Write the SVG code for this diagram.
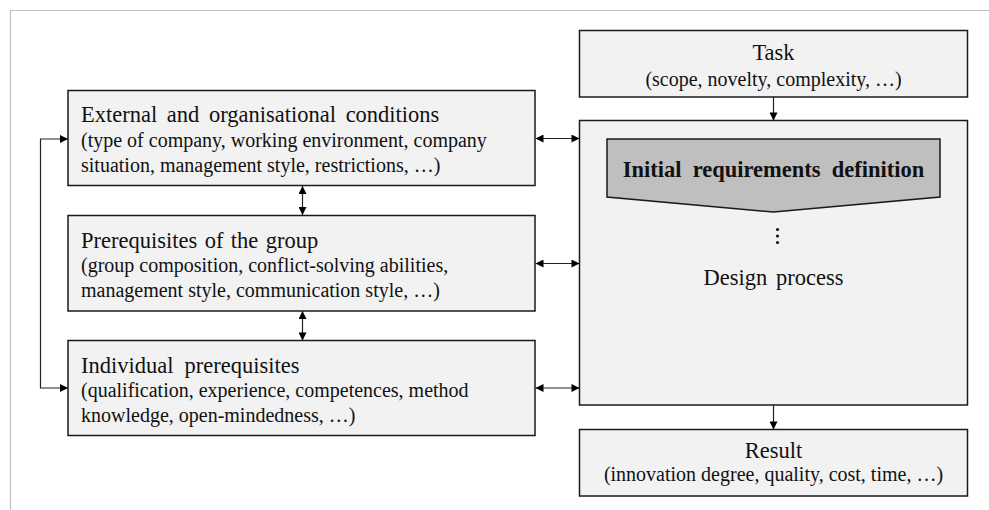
<svg xmlns="http://www.w3.org/2000/svg" width="989" height="510" viewBox="0 0 989 510">
<style>
.box{fill:#f2f2f2;stroke:#1a1a1a;stroke-width:1.5}
.t{font-family:"Liberation Serif","Times New Roman",serif;font-size:20px;fill:#111}
.h{font-size:22.5px}
.c{text-anchor:middle}
.b{font-weight:bold}
.ln{fill:none;stroke:#222;stroke-width:1.2}
</style>
<defs>
<marker id="ah" viewBox="0 0 10 10" refX="10" refY="5" markerWidth="9" markerHeight="8" markerUnits="userSpaceOnUse" orient="auto-start-reverse">
<path d="M0,0 L10,5 L0,10 Z" fill="#000"/>
</marker>
</defs>
<rect width="989" height="510" fill="#fff"/>
<path d="M10.5,510 L10.5,10.5 L989,10.5" fill="none" stroke="#c0c0c0" stroke-width="1.2"/>

<g id="external">
<rect class="box" x="68" y="90.5" width="467" height="95"/>
<text class="t h" x="81" y="122" word-spacing="4">External and organisational conditions</text>
<text class="t" x="81" y="147">(type of company, working environment, company</text>
<text class="t" x="81" y="172">situation, management style, restrictions, …)</text>
</g>
<g id="group">
<rect class="box" x="68" y="215.5" width="467" height="95.5"/>
<text class="t h" x="81" y="248" word-spacing="1.8">Prerequisites of the group</text>
<text class="t" x="81" y="272">(group composition, conflict-solving abilities,</text>
<text class="t" x="81" y="297">management style, communication style, …)</text>
</g>
<g id="individual">
<rect class="box" x="68" y="340.5" width="467" height="95"/>
<text class="t h" x="81" y="373" word-spacing="5.4">Individual prerequisites</text>
<text class="t" x="81" y="397">(qualification, experience, competences, method</text>
<text class="t" x="81" y="422">knowledge, open-mindedness, …)</text>
</g>
<g id="task">
<rect class="box" x="579.5" y="30.5" width="388" height="66.5"/>
<text class="t h c" x="773.5" y="60">Task</text>
<text class="t c" x="773.5" y="86">(scope, novelty, complexity, …)</text>
</g>
<g id="design">
<rect class="box" x="579.5" y="120.5" width="388" height="284.5"/>
<text class="t h c" x="773.5" y="285" word-spacing="3">Design process</text>
</g>
<g id="initial">
<path d="M607,139 L940,139 L940,197 L773.5,212 L607,197 Z" fill="#bfbfbf" stroke="#1a1a1a" stroke-width="1.5"/>
<text class="t h c b" x="773.5" y="177" word-spacing="5.5">Initial requirements definition</text>
<circle cx="777.5" cy="229.5" r="1.6" fill="#111"/>
<circle cx="777.5" cy="236" r="1.6" fill="#111"/>
<circle cx="777.5" cy="242.5" r="1.6" fill="#111"/>
</g>
<g id="result">
<rect class="box" x="579.5" y="429.5" width="388" height="66.5"/>
<text class="t h c" x="773.5" y="458">Result</text>
<text class="t c" x="773.5" y="481">(innovation degree, quality, cost, time, …)</text>
</g>

<g id="connectors">
<path class="ln" d="M68,139 L40.5,139 L40.5,388 L68,388" marker-start="url(#ah)" marker-end="url(#ah)" stroke="#555"/>
<line class="ln" x1="302.5" y1="186" x2="302.5" y2="215" marker-start="url(#ah)" marker-end="url(#ah)"/>
<line class="ln" x1="302.5" y1="311" x2="302.5" y2="340.5" marker-start="url(#ah)" marker-end="url(#ah)"/>
<line class="ln" x1="535.5" y1="138.5" x2="579.5" y2="138.5" marker-start="url(#ah)" marker-end="url(#ah)"/>
<line class="ln" x1="535.5" y1="263.5" x2="579.5" y2="263.5" marker-start="url(#ah)" marker-end="url(#ah)"/>
<line class="ln" x1="535.5" y1="388" x2="579.5" y2="388" marker-start="url(#ah)" marker-end="url(#ah)"/>
<line class="ln" x1="773.5" y1="97" x2="773.5" y2="120.5" marker-end="url(#ah)"/>
<line class="ln" x1="773.5" y1="405" x2="773.5" y2="429.5" marker-end="url(#ah)"/>
</g>
</svg>
